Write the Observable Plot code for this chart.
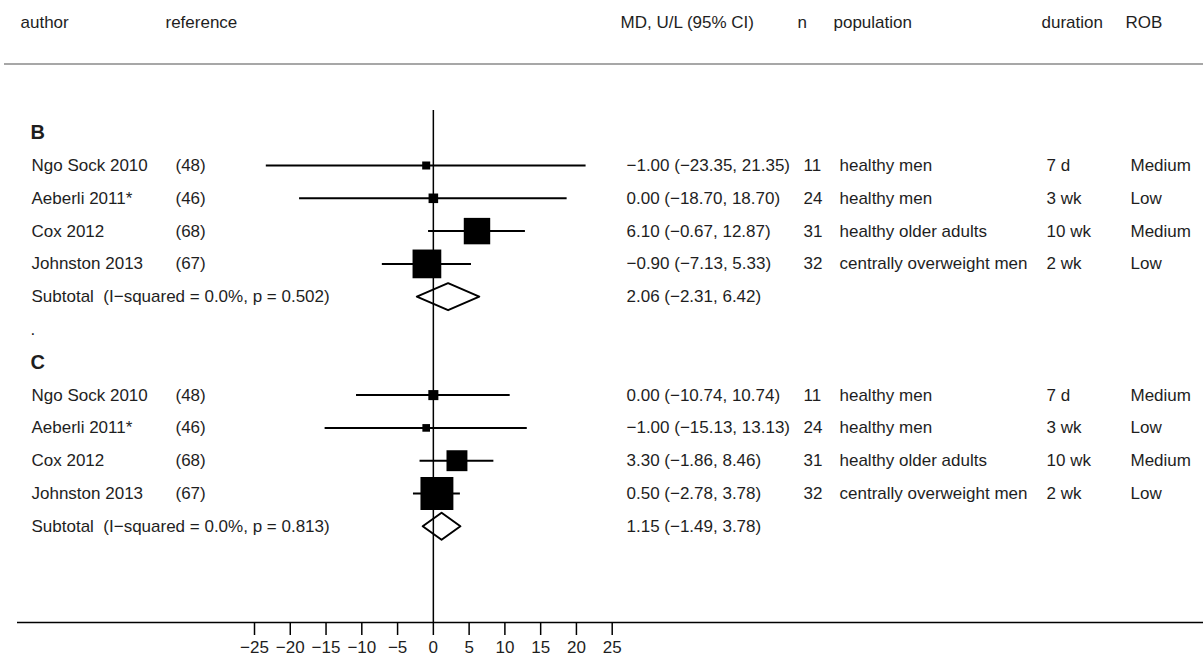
<!DOCTYPE html>
<html>
<head>
<meta charset="utf-8">
<script src="https://cdn.jsdelivr.net/npm/d3@7"></script>
<script src="https://cdn.jsdelivr.net/npm/@observablehq/plot@0.6"></script>
<style>
  html, body { margin: 0; padding: 0; background: #fff; }
  #chart { width: 1203px; height: 659px; }
</style>
</head>
<body>
<div id="chart"></div>
<script>
// ---------- data ----------
const groupLabels = ["B", "C"];
const authors = ["Ngo Sock 2010", "Aeberli 2011*", "Cox 2012", "Johnston 2013"];
const references = ["(48)", "(46)", "(68)", "(67)"];
const nValues = [11, 24, 31, 32];
const populations = ["healthy men", "healthy men", "healthy older adults", "centrally overweight men"];
const durations = ["7 d", "3 wk", "10 wk", "2 wk"];
const robValues = ["Medium", "Low", "Medium", "Low"];

const mdB = [-1.00, 0.00, 6.10, -0.90];
const lowerB = [-23.35, -18.70, -0.67, -7.13];
const upperB = [21.35, 18.70, 12.87, 5.33];

const mdC = [0.00, -1.00, 3.30, 0.50];
const lowerC = [-10.74, -15.13, -1.86, -2.78];
const upperC = [10.74, 13.13, 8.46, 3.78];

const subtotalMD = [2.06, 1.15];
const subtotalLower = [-2.31, -1.49];
const subtotalUpper = [6.42, 3.78];
const iSquared = ["0.0%", "0.0%"];
const pValues = ["0.502", "0.813"];

const headers = ["author", "reference", "MD, U/L (95% CI)", "n", "population", "duration", "ROB"];
const axisTicks = [-25, -20, -15, -10, -5, 0, 5, 10, 15, 20, 25];

// ---------- layout ----------
const W = 1203, H = 659;
const rowTop = 165, rowStep = 32.8;
const yPx = r => r; // placeholder
const yOf = px => (px - rowTop) / rowStep; // pixel -> row units (layout only)
const headerX = [20, 165, 620, 797, 833, 1041, 1125];
const colX = {author: 31, ref: 175, md: 626, n: 803, pop: 839, dur: 1046, rob: 1130};
const font = "'Liberation Sans', Arial, Helvetica, sans-serif";
const ink = "#1e1e1e";

const minus = s => s.replace(/-/g, "\u2212");
const f2 = d3.format(".2f");
const ciText = (m, l, u) => minus(`${f2(m)} (${f2(l)}, ${f2(u)})`);

// ---------- build tables ----------
const groups = [
  {label: groupLabels[0], md: mdB, lo: lowerB, hi: upperB, start: 0},
  {label: groupLabels[1], md: mdC, lo: lowerC, hi: upperC, start: 7}
];
const studies = [];
const subtotals = [];
const groupRows = [];
groups.forEach((g, gi) => {
  const w = g.lo.map((l, i) => { const se = (g.hi[i] - l) / (2 * 1.96); return 1 / (se * se); });
  const wsum = d3.sum(w);
  groupRows.push({row: g.start - 1, label: g.label});
  authors.forEach((a, i) => {
    studies.push({
      row: g.start + i,
      author: a, ref: references[i],
      md: g.md[i], lo: g.lo[i], hi: g.hi[i],
      text: ciText(g.md[i], g.lo[i], g.hi[i]),
      n: String(nValues[i]), pop: populations[i], dur: durations[i], rob: robValues[i],
      weight: 100 * w[i] / wsum
    });
  });
  subtotals.push({
    row: g.start + 4,
    label: `Subtotal\u00a0 (I\u2212squared = ${iSquared[gi]}, p = ${pValues[gi]})`,
    md: subtotalMD[gi], lo: subtotalLower[gi], hi: subtotalUpper[gi],
    text: ciText(subtotalMD[gi], subtotalLower[gi], subtotalUpper[gi])
  });
});
const dotRow = [{row: 5, t: "."}];

// diamond outlines
const diamondHalf = 13.5 / rowStep;
const diamonds = subtotals.flatMap((s, i) => [
  {x: s.lo, y: s.row, k: i},
  {x: s.md, y: s.row - diamondHalf, k: i},
  {x: s.hi, y: s.row, k: i},
  {x: s.md, y: s.row + diamondHalf, k: i},
  {x: s.lo, y: s.row, k: i}
]);

const boxSide = w => 4.1 * Math.sqrt(w);
const headerRow = headers.map((h, i) => ({t: h, dx: headerX[i], row: yOf(22)}));

const textCol = (data, field, dx, extra = {}) =>
  Plot.text(data, {y: "row", text: field, frameAnchor: "left", dx, textAnchor: "start",
    fill: ink, fontSize: 17, ...extra});

const chart = Plot.plot({
  width: W, height: H,
  marginTop: 0, marginRight: 0, marginBottom: H - 622, marginLeft: 0,
  style: {fontFamily: font, fontSize: "17px", background: "#fff", color: ink},
  x: {domain: [-25, 25], range: [254, 611.7]},
  y: {domain: [0, 11], range: [rowTop, rowTop + 11 * rowStep], axis: null},
  r: {type: "identity"},
  marks: [
    // header line and header texts
    Plot.ruleY([yOf(63.5)], {insetLeft: 4, stroke: "#8a8a8a", strokeWidth: 1.5}),
    ...headerRow.map(h => Plot.text([h], {y: "row", text: "t", frameAnchor: "left", dx: h.dx,
      textAnchor: "start", fill: ink, fontSize: 17})),
    // group labels
    Plot.text(groupRows, {y: "row", text: "label", frameAnchor: "left", dx: 30, textAnchor: "start",
      fill: ink, fontSize: 20, fontWeight: "bold"}),
    // study text columns
    textCol(studies, "author", colX.author),
    textCol(studies, "ref", colX.ref),
    textCol(studies, "text", colX.md),
    textCol(studies, "n", colX.n),
    textCol(studies, "pop", colX.pop),
    textCol(studies, "dur", colX.dur),
    textCol(studies, "rob", colX.rob),
    textCol(subtotals, "label", colX.author),
    textCol(subtotals, "text", colX.md),
    textCol(dotRow, "t", colX.author - 1),
    // confidence intervals
    Plot.ruleY(studies, {y: "row", x1: "lo", x2: "hi", stroke: "#000", strokeWidth: 2}),
    // weight boxes
    Plot.dot(studies, {x: "md", y: "row", symbol: "square", fill: "#000", stroke: "none",
      r: d => boxSide(d.weight) / Math.sqrt(Math.PI)}),
    // subtotal diamonds
    Plot.line(diamonds, {x: "x", y: "y", z: "k", stroke: "#000", strokeWidth: 2, fill: "#fff",
      curve: "linear-closed"}),
    // null line
    Plot.ruleX([0], {y1: yOf(110), y2: yOf(622), stroke: "#000", strokeWidth: 1.5}),
    // axis line
    Plot.ruleY([yOf(622)], {insetLeft: 17, stroke: "#000", strokeWidth: 1.5}),
    Plot.axisX({ticks: axisTicks, tickSize: 13, tickPadding: 5, fontSize: 17, stroke: "#000",
      strokeWidth: 1.5, fill: ink, tickFormat: d3.format("d"), label: null})
  ]
});
document.getElementById("chart").append(chart);
</script>
</body>
</html>
